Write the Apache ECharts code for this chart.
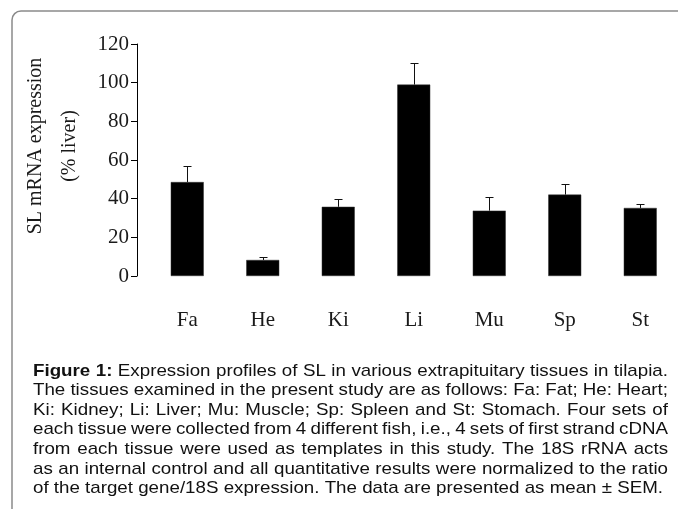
<!DOCTYPE html>
<html>
<head>
<meta charset="utf-8">
<script src="https://cdn.jsdelivr.net/npm/echarts@6/dist/echarts.min.js"></script>
<style>
html,body{margin:0;padding:0;background:#fff;}
#chart{width:678px;height:509px;}
</style>
</head>
<body>
<div id="chart"></div>
<script>
// ---- data ----
const categories = ['Fa', 'He', 'Ki', 'Li', 'Mu', 'Sp', 'St'];
const means = [48.6, 8.3, 35.8, 99.0, 33.8, 42.1, 35.2];
const sems = [8.3, 1.5, 4.2, 11.3, 6.9, 5.7, 2.2];
const yMin = 0, yMax = 120, yStep = 20;
const yAxisName = ['SL mRNA expression', '(% liver)'];
const captionBoldWords = 2; // "Figure 1:"
const captionLines = [
  'Figure 1: Expression profiles of SL in various extrapituitary tissues in tilapia.',
  'The tissues examined in the present study are as follows: Fa: Fat; He: Heart;',
  'Ki: Kidney; Li: Liver; Mu: Muscle; Sp: Spleen and St: Stomach. Four sets of',
  'each tissue were collected from 4 different fish, i.e., 4 sets of first strand cDNA',
  'from each tissue were used as templates in this study. The 18S rRNA acts',
  'as an internal control and all quantitative results were normalized to the ratio',
  'of the target gene/18S expression. The data are presented as mean \u00b1 SEM.'
];

// ---- caption layout (justified words, horizontally condensed font as in the source) ----
const ctx = document.createElement('canvas').getContext('2d');
function textW(s, font) { ctx.font = font; return ctx.measureText(s).width; }
const capX0 = 33, capX1 = 668, capY0 = 371, capLH = 19.6;
const capSize = 17;
const fReg = capSize + 'px "Liberation Sans"';
const fBold = 'bold ' + fReg;
const lastNatural = textW(captionLines[captionLines.length - 1], fReg);
const capScale = 630 / lastNatural;
const captionEls = [];
captionLines.forEach((line, li) => {
  const words = line.split(' ');
  const toks = words.map((w, i) => ({ t: w, bold: li === 0 && i < captionBoldWords }));
  const ws = toks.map(k => textW(k.t, k.bold ? fBold : fReg) * capScale);
  const sum = ws.reduce((a, b) => a + b, 0);
  const isLast = li === captionLines.length - 1;
  const gap = isLast ? textW(' ', fReg) * capScale : (capX1 - capX0 - sum) / (toks.length - 1);
  let x = capX0;
  toks.forEach((k, i) => {
    captionEls.push({
      type: 'text', x: x, y: capY0 + li * capLH, scaleX: capScale, silent: true,
      style: { text: k.t, font: k.bold ? fBold : fReg, fill: '#111', align: 'left', verticalAlign: 'middle' }
    });
    x += ws[i] + gap;
  });
});

// ---- chart ----
const chart = echarts.init(document.getElementById('chart'), null, { renderer: 'canvas' });
const gridLeft = 149.5, bandW = 77.24;
const option = {
  animation: false,
  backgroundColor: '#ffffff',
  grid: { left: gridLeft, top: 44, width: bandW * categories.length, height: 232, containLabel: false },
  xAxis: {
    type: 'category',
    data: categories,
    boundaryGap: true,
    axisLine: { show: false },
    axisTick: { show: false },
    axisLabel: { margin: 34, fontFamily: 'Liberation Serif', fontSize: 21, color: '#1a1a1a' }
  },
  yAxis: {
    type: 'value',
    min: yMin, max: yMax, interval: yStep,
    offset: 12.5,
    name: yAxisName.join('\n'),
    nameLocation: 'middle',
    nameGap: 49,
    nameRotate: 90,
    nameTextStyle: { fontFamily: 'Liberation Serif', fontSize: 20, lineHeight: 34, color: '#1a1a1a', align: 'center', padding: [0, 0, 0, 28] },
    axisLine: { show: true, lineStyle: { color: '#000', width: 1 } },
    axisTick: { show: true, inside: false, length: 6, lineStyle: { color: '#000', width: 1 } },
    axisLabel: { margin: 8, fontFamily: 'Liberation Serif', fontSize: 21, color: '#1a1a1a' },
    splitLine: { show: false }
  },
  series: [
    {
      type: 'bar',
      data: means,
      barWidth: 33,
      itemStyle: { color: '#000', borderColor: '#333', borderWidth: 0.5 },
      z: 2
    },
    {
      type: 'custom',
      data: categories.map((c, i) => [i, means[i], means[i] + sems[i]]),
      renderItem: function (params, api) {
        const p0 = api.coord([api.value(0), api.value(1)]);
        const p1 = api.coord([api.value(0), api.value(2)]);
        const cx = Math.round(p0[0]) + 0.5;
        const ty = Math.round(p1[1]) + 0.5;
        const hw = 4;
        return {
          type: 'group',
          children: [
            { type: 'line', shape: { x1: cx, y1: p0[1], x2: cx, y2: ty }, style: { stroke: '#111', lineWidth: 1 } },
            { type: 'line', shape: { x1: cx - hw, y1: ty, x2: cx + hw, y2: ty }, style: { stroke: '#111', lineWidth: 1 } }
          ]
        };
      },
      z: 3
    }
  ],
  graphic: [
    {
      type: 'rect', silent: true, z: -1,
      shape: { x: 12, y: 11, width: 720, height: 620, r: 9 },
      style: { fill: 'none', stroke: '#8a8a8a', lineWidth: 1.5 }
    }
  ].concat(captionEls)
};
chart.setOption(option);
</script>
</body>
</html>
